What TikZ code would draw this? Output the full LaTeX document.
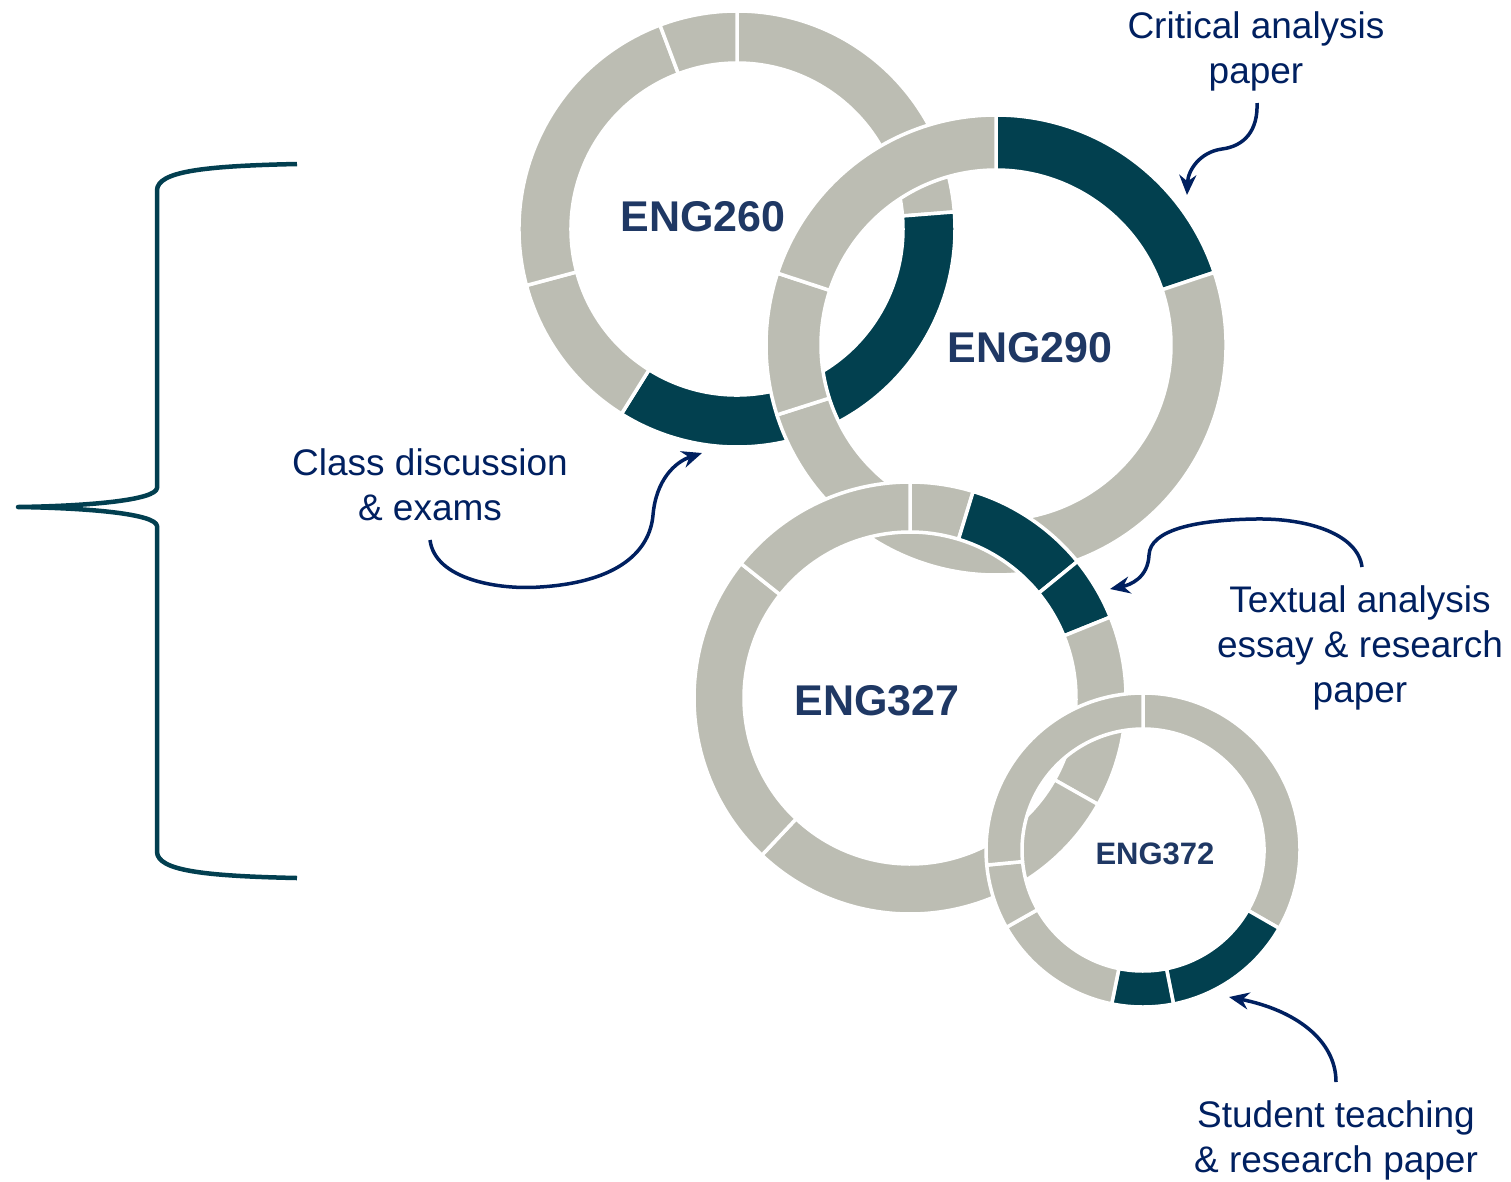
\documentclass[tikz,border=0pt]{standalone}
\usepackage{fontspec}
\setmainfont{Liberation Sans}
\usetikzlibrary{arrows.meta,calc}
\definecolor{ringgray}{HTML}{BCBDB3}
\definecolor{ringdark}{HTML}{02404F}
\definecolor{lblblue}{HTML}{1F3864}
\definecolor{annblue}{HTML}{002060}
\definecolor{bracecol}{HTML}{023F50}
% #1 centre, #2 outer radius, #3 inner radius, #4 start (clock deg), #5 end (clock deg), #6 colour
\newcommand\ringseg[6]{%
  \path[fill=#6, draw=white, line width=3.5pt, line join=round]
    ([shift={({90-(#4)}:#2)}]#1) arc[start angle={90-(#4)}, end angle={90-(#5)}, radius=#2]
    -- ([shift={({90-(#5)}:#3)}]#1) arc[start angle={90-(#5)}, end angle={90-(#4)}, radius=#3] -- cycle;}
\begin{document}
\begin{tikzpicture}[x=1pt,y=1pt,
  ringlbl/.style={font=\bfseries\fontsize{43}{50}\selectfont, text=lblblue, inner sep=0pt, anchor=base},
  smallringlbl/.style={font=\bfseries\fontsize{31}{36}\selectfont, text=lblblue, inner sep=0pt, anchor=base},
  ann/.style={font=\fontsize{37}{45}\selectfont, text=annblue, align=center, inner sep=0pt, anchor=base},
  arr/.style={draw=annblue, line width=3.5pt, -{Stealth[length=20pt,width=17pt]}},
  bracestyle/.style={draw=bracecol, line width=4.5pt, line join=round}]
\useasboundingbox (0,0) rectangle (1511,-1181);
\fill[white] (0,0) rectangle (1511,-1181);
% centres
\coordinate (c260) at (737,-229);
\coordinate (c290) at (996,-345);
\coordinate (c327) at (910,-698);
\coordinate (c372) at (1143,-850);
% ENG260
\ringseg{c260}{218}{166}{0}{85.5}{ringgray}
\ringseg{c260}{218}{166}{85.5}{212}{ringdark}
\ringseg{c260}{218}{166}{212}{255}{ringgray}
\ringseg{c260}{218}{166}{255}{339.3}{ringgray}
\ringseg{c260}{218}{166}{339.3}{360}{ringgray}
% ENG290
\ringseg{c290}{230}{175}{0}{71.6}{ringdark}
\ringseg{c290}{230}{175}{71.6}{252.3}{ringgray}
\ringseg{c290}{230}{175}{252.3}{288.2}{ringgray}
\ringseg{c290}{230}{175}{288.2}{360}{ringgray}
% ENG327
\ringseg{c327}{216}{166}{0}{17}{ringgray}
\ringseg{c327}{216}{166}{17}{50.8}{ringdark}
\ringseg{c327}{216}{166}{50.8}{68}{ringdark}
\ringseg{c327}{216}{166}{68}{119.5}{ringgray}
\ringseg{c327}{216}{166}{119.5}{223.3}{ringgray}
\ringseg{c327}{216}{166}{223.3}{308.5}{ringgray}
\ringseg{c327}{216}{166}{308.5}{360}{ringgray}
% ENG372
\ringseg{c372}{157}{121}{0}{119.9}{ringgray}
\ringseg{c372}{157}{121}{119.9}{168.8}{ringdark}
\ringseg{c372}{157}{121}{168.8}{191.5}{ringdark}
\ringseg{c372}{157}{121}{191.5}{240.5}{ringgray}
\ringseg{c372}{157}{121}{240.5}{264.5}{ringgray}
\ringseg{c372}{157}{121}{264.5}{360}{ringgray}
% ring labels
\node[ringlbl] (l260) at (703,-231) {ENG260};
\node[ringlbl] (l290) at (1030,-362) {ENG290};
\node[ringlbl] (l327) at (877,-715) {ENG327};
\node[smallringlbl] (l372) at (1155,-864) {ENG372};
% annotations (anchor = baseline of last line)
\node[ann] (crit) at (1256,-83) {Critical analysis\\paper};
\node[ann] (class) at (430,-520) {Class discussion\\\& exams};
\node[ann] (text) at (1360,-702) {Textual analysis\\essay \& research\\paper};
\node[ann] (stud) at (1336,-1172) {Student teaching\\\& research paper};
% arrow ends
\coordinate (critS) at (1257,-103);
\coordinate (critE) at (1187,-195);
\coordinate (classS) at (430,-540);
\coordinate (classE) at (702,-453);
\coordinate (textS) at (1362,-567);
\coordinate (textE) at (1110,-589);
\coordinate (studS) at (1336,-1082);
\coordinate (studE) at (1229,-997);
\draw[arr] (critS) .. controls (1258,-130) and (1245,-146) .. (1222,-149)
  .. controls (1200,-152) and (1188,-170) .. (critE);
\draw[arr] (classS) .. controls (435,-580) and (500,-590) .. (540,-587)
  .. controls (620,-582) and (650,-550) .. (653,-515)
  .. controls (656,-480) and (675,-462) .. (classE);
\draw[arr] (textS) .. controls (1358,-535) and (1310,-518) .. (1255,-519)
  .. controls (1195,-520) and (1150,-530) .. (1149,-555)
  .. controls (1148,-578) and (1130,-585) .. (textE);
\draw[arr] (studS) .. controls (1336,-1040) and (1295,-1010) .. (studE);
% brace
\coordinate (bTop) at (297,-164);
\coordinate (bTip) at (18,-507);
\coordinate (bBot) at (297,-878);
\draw[bracestyle] (bTop) .. controls (200,-166) and (158,-172) .. (157,-190)
  -- (157,-488) .. controls (156,-500) and (90,-506) .. (bTip)
  .. controls (90,-508) and (156,-514) .. (157,-526)
  -- (157,-852) .. controls (158,-870) and (200,-876) .. (bBot);
\end{tikzpicture}
\end{document}
